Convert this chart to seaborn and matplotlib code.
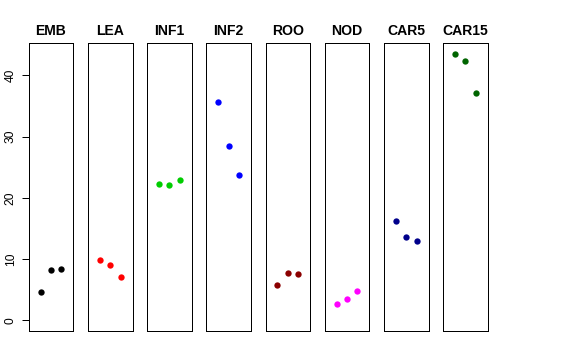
import numpy as np
import pandas as pd
import matplotlib
matplotlib.use("Agg")
import matplotlib.pyplot as plt
import seaborn as sns

#%% Data
groups = ["EMB", "LEA", "INF1", "INF2", "ROO", "NOD", "CAR5", "CAR15"]
colours = ["#000000", "#FF0000", "#00CD00", "#0000FF", "#8B0000", "#FF00FF", "#00008B", "#006400"]
rep = [1, 2, 3]
emb = [4.7, 8.2, 8.3]
lea = [9.9, 9.1, 7.1]
inf1 = [22.2, 22.1, 22.9]
inf2 = [35.6, 28.4, 23.8]
roo = [5.7, 7.8, 7.5]
nod = [2.6, 3.4, 4.8]
car5 = [16.2, 13.6, 13.0]
car15 = [43.5, 42.4, 37.2]
values = [emb, lea, inf1, inf2, roo, nod, car5, car15]

df = pd.DataFrame({
    "group": np.repeat(groups, len(rep)),
    "rep": rep * len(groups),
    "value": np.concatenate(values),
})

#%% Plot
sns.set_style("white")
plt.rcParams["font.family"] = ["Liberation Sans", "DejaVu Sans"]
plt.rcParams["text.color"] = "black"
plt.rcParams["ytick.color"] = "black"
plt.rcParams["axes.labelcolor"] = "black"

W, H = 576, 360
fig = plt.figure(figsize=(W / 72, H / 72), dpi=72)
left0, step, width = 28.7, 59.2, 44.6
top, bottom = 43, 331

for i, (g, c) in enumerate(zip(groups, colours)):
    ax = fig.add_axes([(left0 + i * step) / W, (H - bottom) / H,
                       width / W, (bottom - top) / H])
    sub = df[df["group"] == g]
    sns.scatterplot(data=sub, x="rep", y="value", color=c, s=40,
                    linewidth=0, ax=ax, legend=False)
    ax.set_xlim(-0.16, 4.16)
    ax.set_ylim(-1.75, 45.3)
    ax.set_xticks([])
    ax.set_xlabel("")
    ax.set_ylabel("")
    ax.set_title(g, fontsize=14, fontweight="bold", pad=8, color="black")
    for s in ax.spines.values():
        s.set_visible(True)
        s.set_color("black")
        s.set_linewidth(1)
    if i == 0:
        ax.set_yticks([0, 10, 20, 30, 40])
        ax.tick_params(axis="y", left=True, length=7, width=1, pad=5,
                       labelsize=12, labelrotation=90, colors="black")
        for lab in ax.get_yticklabels():
            lab.set_va("center")
    else:
        ax.set_yticks([])

fig.savefig("out.png", dpi=72)
